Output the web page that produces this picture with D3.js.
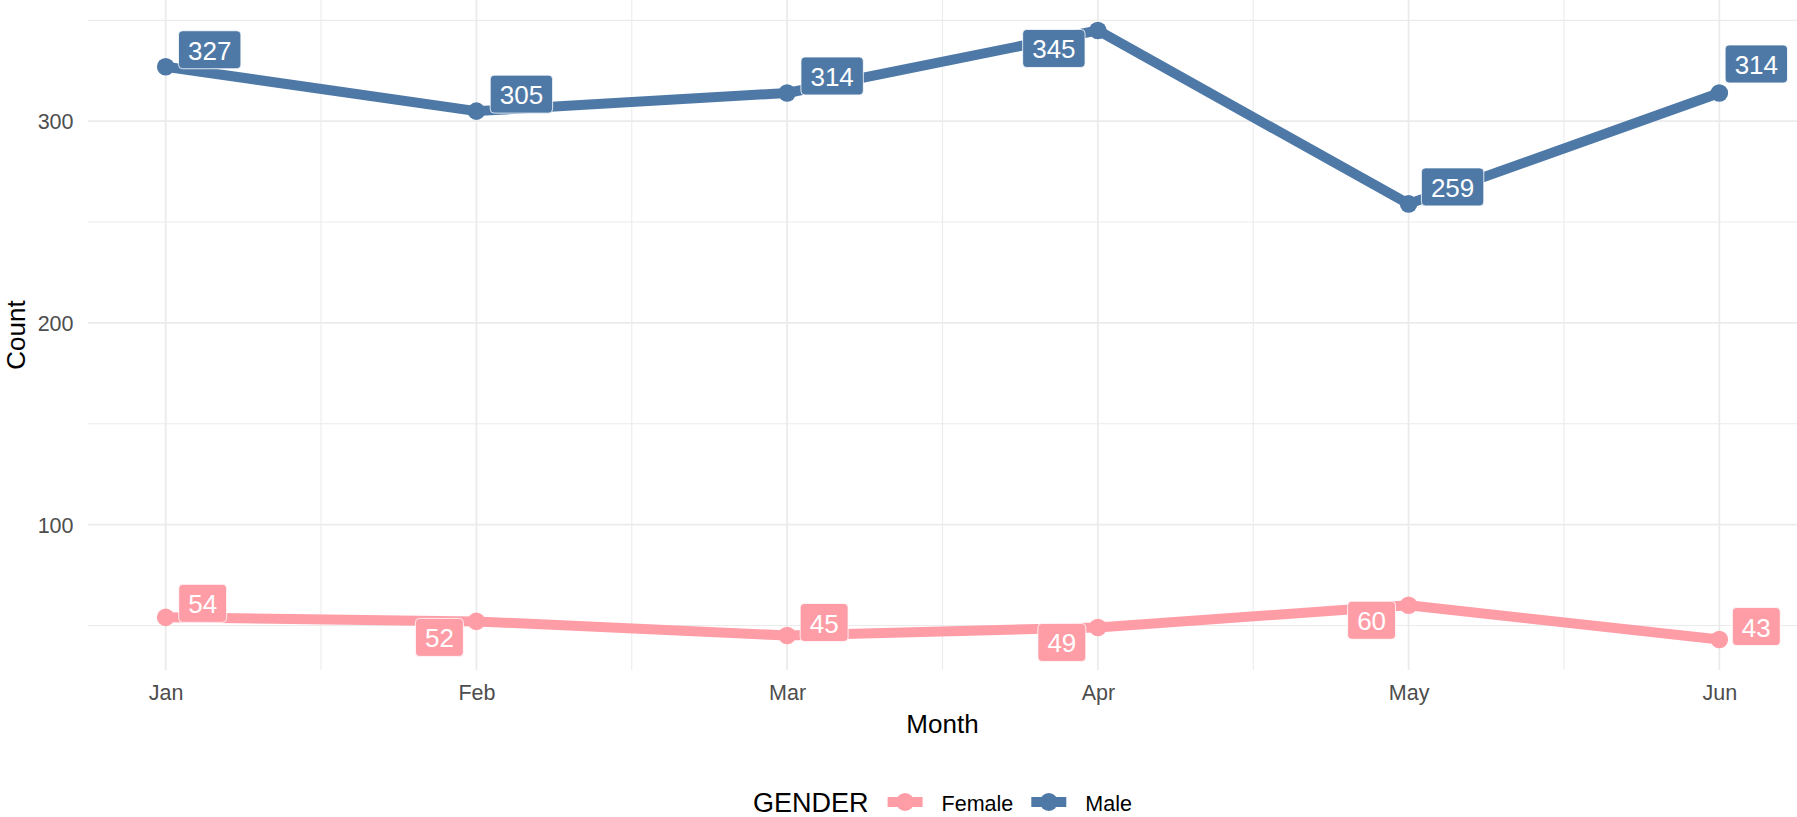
<!DOCTYPE html>
<html>
<head>
<meta charset="utf-8">
<script src="https://cdn.jsdelivr.net/npm/d3@7"></script>
<style>
  body { margin: 0; background: #fff; }
  svg { display: block; font-family: "Liberation Sans", Arial, sans-serif; }
</style>
</head>
<body>
<svg id="chart" width="1797" height="817"></svg>
<script>
// data
const months = ["Jan", "Feb", "Mar", "Apr", "May", "Jun"];
const femaleCounts = [54, 52, 45, 49, 60, 43];
const maleCounts = [327, 305, 314, 345, 259, 314];
const genders = ["Female", "Male"];
const yTicks = [100, 200, 300];
const yMinor = [50, 150, 250, 350];

// layout
const colors = { Female: "#FF9DA7", Male: "#4E79A7" };
// label box offsets (px) from each point, repel-style placement
const labelNudge = {
  Female: [[37, -14], [-37, 16], [37, -13], [-36, 15], [-37, 15], [37, -13]],
  Male: [[44, -17], [45, -17], [45, -17], [-44, 18], [44, -17], [37, -29]]
};

const W = 1797, H = 817;
const panel = { left: 88, right: W, top: 0, bottom: 670 };

const svg = d3.select("#chart");

const series = genders.map(function(g) {
  const vals = g == "Female" ? femaleCounts : maleCounts;
  return { gender: g, points: vals.map(function(v, i) { return { m: i + 1, v: v, i: i }; }) };
});

// ggplot-like 5% expansion
const allVals = femaleCounts.concat(maleCounts);
const yMin = d3.min(allVals), yMax = d3.max(allVals);
const yPad = (yMax - yMin) * 0.05;
const y = d3.scaleLinear().domain([yMin - yPad, yMax + yPad]).range([panel.bottom, panel.top]);
const xPad = (months.length - 1) * 0.05;
const x = d3.scaleLinear().domain([1 - xPad, months.length + xPad]).range([panel.left, panel.right]);

// grid
const grid = svg.append("g");
const xMinor = d3.range(1.5, months.length, 1);
grid.selectAll(".ymin").data(yMinor).enter().append("line")
  .attr("x1", panel.left).attr("x2", panel.right)
  .attr("y1", d => y(d)).attr("y2", d => y(d))
  .attr("stroke", "#EBEBEB").attr("stroke-width", 1.1);
grid.selectAll(".xmin").data(xMinor).enter().append("line")
  .attr("y1", panel.top).attr("y2", panel.bottom)
  .attr("x1", d => x(d)).attr("x2", d => x(d))
  .attr("stroke", "#EBEBEB").attr("stroke-width", 1.1);
grid.selectAll(".ymaj").data(yTicks).enter().append("line")
  .attr("x1", panel.left).attr("x2", panel.right)
  .attr("y1", d => y(d)).attr("y2", d => y(d))
  .attr("stroke", "#EBEBEB").attr("stroke-width", 1.8);
grid.selectAll(".xmaj").data(months).enter().append("line")
  .attr("y1", panel.top).attr("y2", panel.bottom)
  .attr("x1", (d, i) => x(i + 1)).attr("x2", (d, i) => x(i + 1))
  .attr("stroke", "#EBEBEB").attr("stroke-width", 1.8);

// axes, using d3 axis generators then styling like ggplot
const yAxis = svg.append("g").attr("transform", "translate(" + (panel.left - 14.5) + ",0)")
  .call(d3.axisLeft(y).tickValues(yTicks).tickSize(0).tickPadding(0));
const xAxis = svg.append("g").attr("transform", "translate(0," + (panel.bottom + 26) + ")")
  .call(d3.axisBottom(x).tickValues(d3.range(1, months.length + 1))
    .tickFormat(d => months[d - 1]).tickSize(0).tickPadding(0));
[yAxis, xAxis].forEach(function(a) {
  a.select(".domain").remove();
  a.selectAll("text").attr("fill", "#4D4D4D").style("font-size", "21.5px")
    .style("font-family", "Liberation Sans, Arial, sans-serif");
});
yAxis.selectAll("text").attr("dy", "0.36em");
xAxis.selectAll("text").attr("dy", "0.2em");

// axis titles
svg.append("text").attr("x", (panel.left + panel.right) / 2).attr("y", 733)
  .attr("text-anchor", "middle").style("font-size", "26px").attr("fill", "#000").text("Month");
svg.append("text").attr("transform", "translate(25," + ((panel.top + panel.bottom) / 2) + ") rotate(-90)")
  .attr("text-anchor", "middle").style("font-size", "26px").attr("fill", "#000").text("Count");

// lines and points
const line = d3.line().x(d => x(d.m)).y(d => y(d.v));
const sg = svg.selectAll(".series").data(series).enter().append("g");
sg.append("path")
  .attr("d", d => line(d.points))
  .attr("fill", "none")
  .attr("stroke", d => colors[d.gender])
  .attr("stroke-width", 10)
  .attr("stroke-linejoin", "round");
sg.selectAll("circle").data(d => d.points.map(p => Object.assign({ g: d.gender }, p)))
  .enter().append("circle")
  .attr("cx", d => x(d.m)).attr("cy", d => y(d.v)).attr("r", 8.8)
  .attr("fill", d => colors[d.g]);

// labels on top
const labelData = [];
series.forEach(function(s) {
  s.points.forEach(function(p) { labelData.push({ g: s.gender, m: p.m, v: p.v, i: p.i }); });
});
const lg = svg.selectAll(".lab").data(labelData).enter().append("g")
  .attr("transform", d => "translate(" + (x(d.m) + labelNudge[d.g][d.i][0]) + "," + (y(d.v) + labelNudge[d.g][d.i][1]) + ")");
lg.append("rect");
lg.append("text")
  .attr("text-anchor", "middle").attr("y", 10)
  .style("font-size", "26px").attr("fill", "#fff")
  .text(d => d.v);
lg.each(function(d) {
  const g = d3.select(this);
  const tw = g.select("text").node().getComputedTextLength();
  const bw = tw + 19, bh = 38;
  g.select("rect")
    .attr("x", -bw / 2).attr("y", -bh / 2).attr("width", bw).attr("height", bh)
    .attr("rx", 4).attr("ry", 4)
    .attr("fill", colors[d.g]).attr("stroke", "#fff").attr("stroke-width", 0.8);
});

// legend
const leg = svg.append("g");
const legTitle = leg.append("text").attr("x", 0).attr("y", 812)
  .style("font-size", "27px").attr("fill", "#000").text("GENDER");
let cx = legTitle.node().getComputedTextLength() + 19;
genders.forEach(function(g) {
  const key = leg.append("g").attr("transform", "translate(" + cx + ",802)");
  key.append("line").attr("x1", 0).attr("x2", 35).attr("y1", 0).attr("y2", 0)
    .attr("stroke", colors[g]).attr("stroke-width", 10);
  key.append("circle").attr("cx", 17.5).attr("cy", 0).attr("r", 9).attr("fill", colors[g]);
  const t = leg.append("text").attr("x", cx + 54).attr("y", 810.5)
    .style("font-size", "21.5px").attr("fill", "#000").text(g);
  cx += 54 + t.node().getComputedTextLength() + 18;
});
const legW = cx - 18;
leg.attr("transform", "translate(" + ((panel.left + panel.right) / 2 - legW / 2) + ",0)");
</script>
</body>
</html>
